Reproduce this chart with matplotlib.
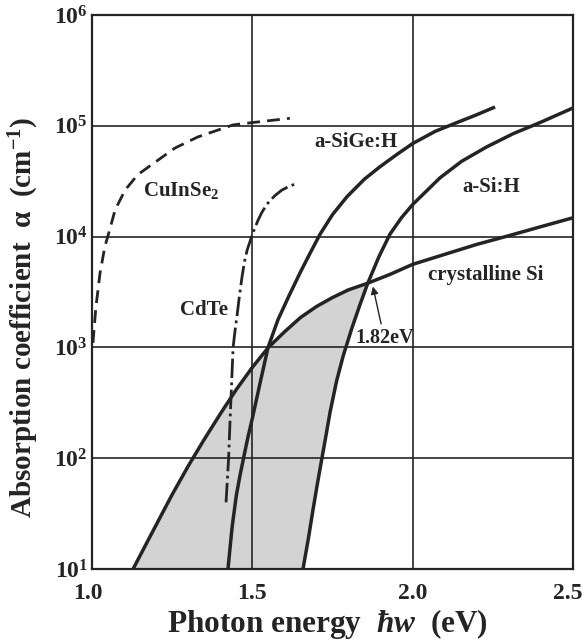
import numpy as np
import matplotlib
matplotlib.use("Agg")
import matplotlib.pyplot as plt
import matplotlib.transforms as mtransforms
from matplotlib.ticker import FixedLocator, NullLocator

plt.rcParams['font.family'] = ['Liberation Serif', 'DejaVu Serif']
plt.rcParams['font.weight'] = 'bold'
plt.rcParams['mathtext.fontset'] = 'custom'
plt.rcParams['mathtext.rm'] = 'Liberation Serif:bold'
plt.rcParams['mathtext.bf'] = 'Liberation Serif:bold'
plt.rcParams['mathtext.it'] = 'Liberation Serif:italic'

# Absorption spectra: photon energy (eV) and absorption coefficient (cm^-1)
csi_e = [1.128, 1.20, 1.25, 1.30, 1.35, 1.40, 1.45, 1.50, 1.55, 1.60, 1.65,
         1.70, 1.75, 1.80, 1.86, 1.93, 2.00, 2.10, 2.20, 2.30, 2.40, 2.50]
csi_a = [10, 25, 47, 85, 148, 251, 417, 661, 1000, 1380, 1860,
         2340, 2820, 3310, 3800, 4570, 5620, 6920, 8510, 10200, 12300, 14800]

asige_e = [1.424, 1.437, 1.45, 1.462, 1.474, 1.487, 1.50, 1.525, 1.549, 1.58,
           1.615, 1.65, 1.68, 1.711, 1.75, 1.795, 1.85, 1.898, 1.95, 2.00,
           2.07, 2.138, 2.20, 2.257]
asige_a = [10, 24, 46, 71, 105, 158, 229, 490, 1000, 1780,
           2950, 4790, 7080, 10500, 15800, 22900, 33100, 42700, 55000, 69200,
           89100, 107000, 126000, 148000]

asi_e = [1.658, 1.675, 1.689, 1.703, 1.717, 1.73, 1.742, 1.763, 1.783, 1.81,
         1.835, 1.86, 1.895, 1.929, 1.965, 2.00, 2.085, 2.153, 2.231, 2.314,
         2.397, 2.50]
asi_a = [10, 19, 34, 59, 100, 162, 257, 501, 832, 1480,
         2400, 3800, 6610, 10500, 14800, 19500, 33900, 47900, 64600, 85100,
         107000, 145000]

cis_e = [1.003, 1.012, 1.025, 1.04, 1.05, 1.072, 1.103, 1.143, 1.196, 1.259,
         1.33, 1.44, 1.50, 1.617]
cis_a = [1100, 2290, 4680, 8130, 10200, 17400, 26300, 36300, 46800, 63100,
         79400, 102000, 107000, 117000]

cdte_e = [1.418, 1.422, 1.426, 1.43, 1.435, 1.44, 1.446, 1.452, 1.46, 1.468,
          1.476, 1.484, 1.492, 1.50, 1.518, 1.53, 1.546, 1.57, 1.592, 1.615,
          1.639]
cdte_a = [40, 63, 100, 200, 447, 1000, 1410, 1910, 2950, 4370,
          6030, 7590, 8910, 10500, 14100, 16600, 19700, 23400, 26300, 28500,
          30200]

edge_label = "1.82eV"
edge_e = 1.86

x_ticks = [1.0, 1.5, 2.0, 2.5]
x_ticklabels = ["1.0", "1.5", "2.0", "2.5"]
y_ticks = [1e1, 1e2, 1e3, 1e4, 1e5, 1e6]
y_ticklabels = [r"$\mathbf{10^{1}}$", r"$\mathbf{10^{2}}$", r"$\mathbf{10^{3}}$",
                r"$\mathbf{10^{4}}$", r"$\mathbf{10^{5}}$", r"$\mathbf{10^{6}}$"]

ink = "#242424"

fig = plt.figure(figsize=(5.86, 6.40), dpi=100)
ax = fig.add_axes([0.157, 0.1109, 0.8208, 0.8656])
ax.set_yscale("log")
ax.set_xlim(1.0, 2.5)
ax.set_ylim(10, 1e6)

# shaded window: below crystalline Si and left of a-Si:H
ce = np.array(csi_e); ca = np.array(csi_a)
ae = np.array(asi_e); aa = np.array(asi_a)
m1 = ce <= edge_e
m2 = ae <= edge_e
poly_e = np.concatenate([ce[m1], ae[m2][::-1]])
poly_a = np.concatenate([ca[m1], aa[m2][::-1]])
ax.fill(poly_e, poly_a, color="#d3d3d3", lw=0, zorder=1)

ax.grid(True, which="major", color=ink, lw=1.2, zorder=2)
for s in ax.spines.values():
    s.set_color(ink)
    s.set_linewidth(1.6)
    s.set_zorder(5)

solid = dict(color=ink, lw=2.5, zorder=4, solid_capstyle="butt", solid_joinstyle="round")
ax.plot(csi_e, csi_a, **solid)
ax.plot(asige_e, asige_a, **solid)
ax.plot(asi_e, asi_a, **solid)
ax.plot(cis_e, cis_a, color=ink, lw=2.0, ls=(0, (4.6, 2.6)), zorder=4,
        dash_joinstyle="round")
ax.plot(cdte_e, cdte_a, color=ink, lw=2.0, ls=(0, (7, 1.6, 1, 1.6)), zorder=4,
        dash_joinstyle="round")

lab = dict(fontsize=15, fontweight="bold", color=ink, va="center", ha="left", zorder=6)
ax.text(1.159, 10**4.42, r"CuInSe$_{2}$", **lab)
ax.text(1.275, 10**3.34, "CdTe", **lab)
ax.text(1.695, 10**4.855, "a-SiGe:H", **lab)
ax.text(2.154, 10**4.448, "a-Si:H", **lab)
ax.text(2.048, 10**3.653, "crystalline Si", **lab)

ax.annotate(edge_label, xy=(1.876, 10**3.55), xytext=(1.82, 10**3.085),
            fontsize=14.5, fontweight="bold", color=ink, ha="left", va="center",
            arrowprops=dict(arrowstyle="-|>", color=ink, lw=1.0,
                            mutation_scale=11, shrinkA=1, shrinkB=0),
            zorder=6)

ax.xaxis.set_major_locator(FixedLocator(x_ticks))
ax.set_xticklabels(x_ticklabels)
ax.yaxis.set_major_locator(FixedLocator(y_ticks))
ax.yaxis.set_minor_locator(NullLocator())
ax.set_yticklabels(y_ticklabels)
ax.tick_params(axis="both", length=0, labelsize=17, colors=ink)
ax.tick_params(axis="x", pad=10)
ax.tick_params(axis="y", pad=3)
xtl = ax.get_xticklabels()
for t in xtl:
    t.set_fontweight("bold")
# end labels sit slightly inward of the frame corners
xtl[0].set_transform(xtl[0].get_transform()
                     + mtransforms.ScaledTranslation(-4 / 100, 0, fig.dpi_scale_trans))
xtl[-1].set_transform(xtl[-1].get_transform()
                      + mtransforms.ScaledTranslation(-5 / 100, 0, fig.dpi_scale_trans))

ax.set_xlabel("Photon energy  $ħw$  (eV)", fontsize=22.5, fontweight="bold", color=ink)
ax.xaxis.set_label_coords(0.49, -0.1)
ax.xaxis.label.set_va("center")
ax.set_ylabel("Absorption coefficient  α  (cm$^{-1}$)", fontsize=21,
              fontweight="bold", color=ink)
ax.yaxis.set_label_coords(-0.141, 0.455)
ax.yaxis.label.set_va("center")

fig.savefig("out.png", dpi=100, facecolor="white")
